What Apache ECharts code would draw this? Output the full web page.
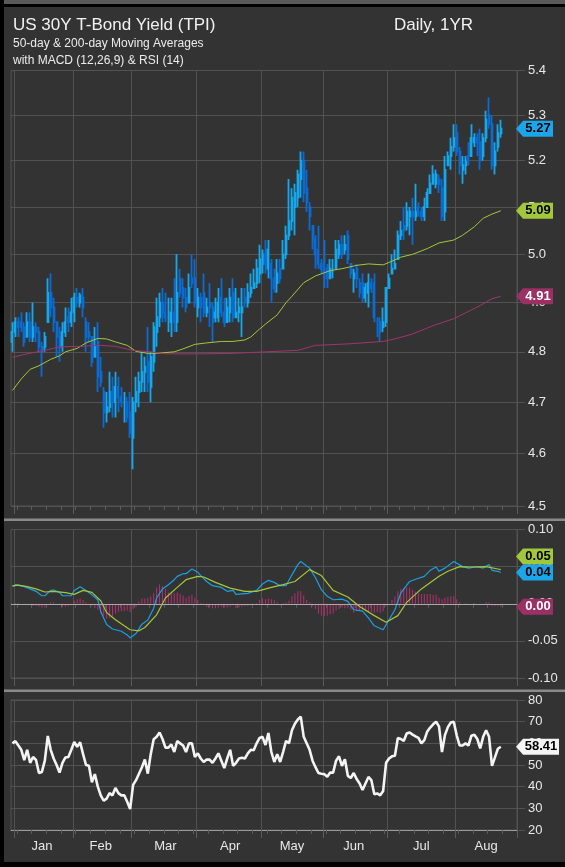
<!DOCTYPE html>
<html><head><meta charset="utf-8">
<script src="https://cdn.jsdelivr.net/npm/echarts@6/dist/echarts.min.js"></script>
<style>html,body{margin:0;padding:0;background:#333;overflow:hidden}#c{width:565px;height:867px}</style>
</head><body><div id="c"></div><script>
// ---------- DATA ----------
const dayCount = 172;
const monthNames = ['Jan','Feb','Mar','Apr','May','Jun','Jul','Aug'];
const monthStarts = [1,21,41,63,85,106,128,151];
const monthLabelIdx = [10,30,52,74,95,116,139,161];
const priceTicks = [4.5,4.6,4.7,4.8,4.9,5.0,5.1,5.2,5.3,5.4];

const opens = [4.82,4.84,4.86,4.86,4.85,4.83,4.86,4.83,4.85,4.84,4.81,4.81,4.86,4.92,4.89,4.86,4.83,4.81,4.84,4.87,
4.86,4.88,4.91,4.90,4.91,4.86,4.84,4.83,4.79,4.82,4.76,4.72,4.68,4.69,4.72,4.70,4.73,4.71,4.70,4.70,
4.68,4.63,4.70,4.72,4.74,4.76,4.78,4.73,4.78,4.84,4.87,4.90,4.88,4.87,4.86,4.88,4.86,4.95,4.93,4.91,
4.90,4.95,4.95,4.89,4.91,4.92,4.88,4.90,4.89,4.87,4.87,4.91,4.88,4.86,4.88,4.92,4.87,4.88,4.88,4.91,
4.90,4.92,4.93,4.94,4.96,4.98,5.00,4.97,4.98,4.95,4.94,4.97,4.97,5.00,5.04,5.07,5.10,5.12,5.16,5.20,
5.14,5.10,5.06,5.03,5.01,4.98,4.98,4.97,4.95,4.97,4.97,5.00,5.02,5.01,5.04,4.98,4.95,4.97,4.94,4.94,
4.91,4.92,4.94,4.94,4.86,4.86,4.85,4.86,4.93,4.96,4.97,4.99,5.04,5.06,5.06,5.08,5.09,5.08,5.10,5.09,
5.08,5.10,5.13,5.15,5.15,5.16,5.14,5.09,5.19,5.21,5.23,5.26,5.22,5.18,5.19,5.21,5.21,5.24,5.25,5.24,
5.21,5.25,5.30,5.28,5.19,5.23,5.26];
const closes = [4.84,4.86,4.85,4.85,4.82,4.86,4.83,4.85,4.84,4.81,4.80,4.83,4.92,4.89,4.86,4.83,4.81,4.84,4.86,4.86,
4.88,4.91,4.90,4.915,4.89,4.83,4.83,4.78,4.81,4.75,4.74,4.68,4.69,4.72,4.70,4.73,4.71,4.70,4.70,4.67,
4.64,4.70,4.72,4.74,4.76,4.77,4.74,4.79,4.85,4.87,4.90,4.88,4.87,4.87,4.88,4.86,4.92,4.92,4.91,4.89,
4.93,4.94,4.90,4.91,4.89,4.88,4.89,4.89,4.86,4.88,4.90,4.88,4.86,4.89,4.91,4.87,4.88,4.89,4.89,4.90,
4.92,4.93,4.94,4.97,4.99,5.00,4.98,5.01,4.95,4.93,4.96,4.95,5.00,5.04,5.07,5.12,5.13,5.17,5.20,5.13,
5.11,5.08,5.03,5.00,4.98,4.97,4.96,4.95,4.97,4.97,5.01,5.02,5.00,5.02,4.99,4.96,4.96,4.95,4.92,4.91,
4.93,4.94,4.93,4.87,4.86,4.84,4.86,4.93,4.95,4.97,4.98,5.04,5.05,5.05,5.09,5.09,5.08,5.09,5.09,5.08,
5.10,5.13,5.15,5.17,5.17,5.15,5.08,5.18,5.21,5.23,5.25,5.22,5.19,5.19,5.20,5.20,5.25,5.25,5.24,5.20,
5.25,5.29,5.28,5.19,5.22,5.26,5.27];
const lows = [4.80,4.83,4.83,4.84,4.81,4.83,4.82,4.82,4.82,4.80,4.75,4.80,4.86,4.87,4.84,4.79,4.78,4.80,4.83,4.84,
4.85,4.86,4.89,4.89,4.87,4.80,4.82,4.77,4.79,4.72,4.73,4.65,4.66,4.68,4.67,4.67,4.68,4.69,4.66,4.66,
4.63,4.57,4.68,4.69,4.72,4.72,4.72,4.70,4.76,4.81,4.85,4.86,4.86,4.84,4.83,4.84,4.84,4.91,4.89,4.88,
4.90,4.93,4.89,4.87,4.86,4.87,4.87,4.85,4.82,4.86,4.86,4.87,4.85,4.86,4.86,4.86,4.87,4.86,4.83,4.89,
4.89,4.91,4.93,4.93,4.94,4.96,4.96,4.95,4.90,4.92,4.92,4.94,4.97,4.99,5.03,5.05,5.04,5.10,5.12,5.11,
5.09,5.05,5.01,4.97,4.97,4.96,4.93,4.93,4.95,4.95,4.97,4.99,4.99,5.00,4.98,4.95,4.92,4.93,4.91,4.90,
4.90,4.89,4.92,4.86,4.83,4.82,4.84,4.85,4.93,4.96,4.97,4.99,5.03,5.03,5.05,5.04,5.02,5.07,5.08,5.07,
5.07,5.10,5.13,5.15,5.14,5.13,5.07,5.07,5.19,5.18,5.22,5.21,5.17,5.15,5.17,5.19,5.21,5.23,5.21,5.18,
5.20,5.24,5.27,5.18,5.17,5.22,5.25];
const highs = [4.86,4.87,4.87,4.88,4.86,4.88,4.88,4.90,4.86,4.85,4.82,4.84,4.95,4.96,4.91,4.86,4.85,4.86,4.89,4.89,
4.91,4.92,4.93,4.92,4.93,4.87,4.86,4.83,4.85,4.86,4.79,4.73,4.72,4.76,4.75,4.76,4.75,4.73,4.72,4.71,
4.72,4.71,4.75,4.76,4.80,4.79,4.85,4.80,4.86,4.91,4.92,4.93,4.92,4.91,4.91,4.95,5.00,4.97,4.95,4.93,
4.96,5.00,4.99,4.93,4.92,4.96,4.91,4.94,4.90,4.91,4.93,4.95,4.91,4.91,4.93,4.95,4.93,4.91,4.93,4.93,
4.94,4.96,4.97,4.99,5.02,5.01,5.03,5.03,4.99,4.97,4.99,4.99,5.03,5.06,5.16,5.14,5.15,5.18,5.22,5.22,
5.18,5.11,5.06,5.04,5.06,4.99,5.03,4.98,4.99,4.99,5.03,5.03,5.04,5.04,5.05,4.98,4.97,4.98,4.95,4.96,
4.94,4.96,4.95,4.96,4.87,4.87,4.89,4.93,4.96,5.00,5.01,5.05,5.07,5.10,5.11,5.10,5.12,5.15,5.11,5.10,
5.12,5.14,5.17,5.19,5.18,5.17,5.16,5.21,5.22,5.25,5.28,5.28,5.23,5.21,5.21,5.24,5.28,5.26,5.26,5.27,
5.26,5.31,5.34,5.30,5.24,5.28,5.29];

const ma50 = [[0,4.723],[3,4.746],[6,4.765],[9,4.772],[13,4.785],[16,4.792],[18,4.800],[22,4.807],[25,4.818],
[29,4.827],[32,4.826],[35,4.820],[39,4.813],[42,4.801],[46,4.797],[49,4.797],[55,4.800],[58,4.806],[62,4.815],
[66,4.818],[71,4.821],[75,4.821],[79,4.824],[81,4.830],[84,4.846],[86,4.856],[90,4.875],[93,4.900],[95,4.913],
[99,4.941],[103,4.955],[108,4.966],[112,4.970],[117,4.977],[121,4.980],[126,4.978],[128,4.983],[132,4.994],
[136,5.000],[141,5.012],[145,5.024],[150,5.030],[153,5.040],[157,5.058],[160,5.076],[163,5.085],[166,5.092]];
const ma200 = [[0,4.789],[5,4.796],[11,4.803],[16,4.810],[23,4.811],[30,4.813],[35,4.811],[41,4.803],[47,4.800],
[52,4.796],[64,4.796],[75,4.797],[86,4.800],[97,4.803],[103,4.813],[114,4.816],[126,4.821],[130,4.826],
[136,4.836],[143,4.853],[150,4.867],[154,4.879],[159,4.894],[163,4.908],[166,4.913]];

const macd = [[0,0.0234],[1,0.0257],[4,0.023],[6,0.020],[8,0.0167],[10,0.0108],[11,0.0108],[13,0.018],[14,0.0185],
[16,0.0153],[17,0.0108],[20,0.0108],[21,0.018],[23,0.023],[25,0.018],[27,0.012],[29,0.0054],[30,-0.0104],
[32,-0.028],[34,-0.034],[37,-0.037],[39,-0.042],[40,-0.046],[42,-0.040],[44,-0.0275],[46,-0.022],[48,-0.006],
[49,0.0077],[51,0.020],[53,0.0257],[55,0.0324],[56,0.0369],[58,0.0405],[59,0.0405],[61,0.0468],[63,0.0423],
[64,0.0378],[66,0.030],[68,0.0243],[71,0.022],[73,0.0167],[75,0.018],[76,0.0126],[80,0.014],[83,0.018],
[85,0.0266],[87,0.0315],[89,0.0288],[91,0.0243],[93,0.0243],[94,0.032],[97,0.0527],[98,0.057],[101,0.048],
[103,0.035],[105,0.019],[107,0.010],[109,0.0054],[112,0.0063],[114,0.0032],[116,-0.0081],[119,-0.010],
[121,-0.019],[123,-0.0297],[126,-0.035],[128,-0.0216],[130,-0.008],[132,0.0144],[135,0.030],[137,0.033],
[140,0.0369],[142,0.045],[144,0.0495],[145,0.0437],[147,0.048],[150,0.057],[153,0.050],[155,0.048],
[158,0.050],[160,0.048],[162,0.053],[163,0.045],[165,0.0437],[166,0.042]];
const signal = [[0,0.024],[2,0.025],[5,0.023],[8,0.020],[11,0.0158],[14,0.0167],[18,0.015],[21,0.0126],[24,0.018],
[27,0.0153],[30,0.004],[32,-0.0117],[35,-0.0216],[38,-0.0297],[40,-0.035],[43,-0.0365],[45,-0.032],[49,-0.0149],
[52,0.0077],[56,0.022],[59,0.0324],[63,0.0369],[65,0.036],[69,0.0288],[74,0.021],[79,0.0167],[83,0.0167],
[88,0.022],[92,0.0257],[96,0.030],[101,0.046],[105,0.038],[109,0.018],[114,0.009],[118,-0.0036],[123,-0.016],
[127,-0.025],[131,-0.016],[134,0.0018],[139,0.020],[145,0.0369],[148,0.0437],[152,0.050],[156,0.0495],
[161,0.050],[165,0.0468],[166,0.046]];
const hist = [0.000,0.001,0.001,0.000,-0.001,-0.002,-0.002,-0.003,-0.003,-0.004,
-0.005,-0.005,0.000,0.002,0.002,0.000,-0.001,-0.004,-0.004,-0.003,
-0.002,0.004,0.006,0.007,0.005,0.002,-0.001,-0.003,-0.006,-0.008,
-0.013,-0.016,-0.020,-0.019,-0.017,-0.013,-0.011,-0.010,-0.010,-0.009,
-0.011,-0.007,-0.004,0.003,0.007,0.007,0.008,0.010,0.014,0.022,
0.026,0.024,0.020,0.015,0.014,0.014,0.015,0.013,0.011,0.008,
0.010,0.012,0.008,0.005,0.001,-0.002,-0.004,-0.005,-0.006,-0.006,
-0.005,-0.004,-0.005,-0.005,-0.004,-0.002,-0.006,-0.005,-0.004,-0.003,
-0.003,-0.002,-0.001,0.001,0.005,0.007,0.006,0.007,0.006,0.005,
0.002,0.000,0.001,0.002,0.004,0.010,0.014,0.017,0.017,0.011,
0.005,0.002,-0.003,-0.007,-0.013,-0.016,-0.017,-0.016,-0.014,-0.013,
-0.009,-0.007,-0.005,-0.006,-0.006,-0.008,-0.012,-0.010,-0.009,-0.008,
-0.010,-0.010,-0.011,-0.012,-0.011,-0.012,-0.010,-0.003,0.000,0.005,
0.010,0.017,0.020,0.021,0.022,0.022,0.019,0.016,0.014,0.013,
0.013,0.013,0.013,0.012,0.012,0.008,0.006,0.008,0.009,0.010,
0.010,0.006,0.002,0.000,0.001,-0.001,0.000,0.001,0.000,-0.001,
-0.001,0.002,0.002,-0.003,-0.003,-0.003,-0.004];
const rsi = [60,61,59,57,52.3,57,51,53.7,52.3,46.3,46.8,52,63.4,57,53,50,46.5,51,53.5,53.7,
57,60.6,58.4,60.5,55,50,49.6,42,45.8,40,36,33.5,34.5,37,36,39.4,37,36,36,33,
29.7,40.8,43,46,49,52.5,46,55,61.9,63,65,62,58,58,59.5,56,61,60,59,56,
60,60,53.7,55.4,53,51.4,52.5,52.5,51,53,55.4,52,48.6,53,57,49.6,51,53,53.3,53,
55.4,57,56.8,60,62.5,63,59.2,64.8,56,51.4,55,51.4,56,61.1,60,66,69,71,72.3,63,
60,57,52,49,46.3,46,45.8,44.6,46.5,46.5,52,54,49.6,52.7,45,44,46.3,43.5,41.5,38.5,
41.5,44.5,43,36.5,36.9,36,38,51,53,54,54.3,62.5,62,61.1,64.5,65,64,63.2,62.5,60,
61.5,65.5,67.3,68.8,70,67.7,56,63.8,67.5,69.6,70,63.7,59,59,60,59,63.5,64,62,57.7,
63,66,63,49.6,53.5,57.5,58.41];

// ---------- STYLE ----------
const C = {
  bg:'#333333', grid:'#525252', text:'#e8e8e8',
  up:'#14a8ee', down:'#0b6bd3', ma50:'#a6c63a', ma200:'#a1346c',
  macd:'#1aa0e4', hist:'#b3306f', rsi:'#f4f4f4'
};
const FONT = '"Liberation Sans", Arial, sans-serif';
const cats = Array.from({length: dayCount}, (_, i) => String(i));
const isMonth = i => monthStarts.indexOf(i) >= 0;
const isWeek = i => (i - 2) % 5 === 0 && !isMonth(i);
const ln = Math.log;

const grids = [
  {left:11, right:48, top:70.5, height:435.5},
  {left:11, right:48, top:529.5, height:148.5},
  {left:11, right:48, top:700, height:130}
].map(g => Object.assign(g, {show:true, borderColor:C.grid, borderWidth:1, backgroundColor:'transparent'}));

const xAxes = [];
[0,1,2].forEach(g => {
  xAxes.push({
    type:'category', gridIndex:g, data:cats, boundaryGap:true, position:'bottom',
    axisLine:{show: g===2, lineStyle:{color:'#9a9a9a', width:1}},
    axisTick:{show:true, interval:(i)=>isWeek(i), length:4, lineStyle:{color:'#5c5c5c'}},
    axisLabel: g===2 ? {
      show:true, interval:(i)=>monthLabelIdx.indexOf(i)>=0,
      formatter:(v, i)=>monthNames[monthLabelIdx.indexOf(i)] || '',
      color:C.text, fontSize:13, fontFamily:FONT, margin:10
    } : {show:false},
    splitLine:{show:true, interval:(i)=>isMonth(i), lineStyle:{color:C.grid, width:1}}
  });
  xAxes.push({
    type:'category', gridIndex:g, data:cats, boundaryGap:true, position:'bottom',
    axisLine:{show:false}, axisLabel:{show:false}, splitLine:{show:false},
    axisTick:{show:true, interval:(i)=>isMonth(i), length:8, lineStyle:{color:'#5c5c5c'}}
  });
});

const lab = {color:C.text, fontSize:13, fontFamily:FONT, margin:11};
const yAxes = [
  { type:'value', gridIndex:0, position:'right', min:ln(4.5), max:ln(5.4),
    axisLine:{show:false},
    axisTick:{show:true, length:8, lineStyle:{color:C.grid}, customValues:priceTicks.map(ln)},
    axisLabel:Object.assign({customValues:priceTicks.map(ln), formatter:v=>Math.exp(v).toFixed(1)}, lab),
    splitLine:{show:true, lineStyle:{color:C.grid}} },
  { type:'value', gridIndex:1, position:'right', min:-0.1, max:0.1, interval:0.05,
    axisLine:{show:false}, axisTick:{show:true, length:8, lineStyle:{color:C.grid}},
    axisLabel:Object.assign({formatter:v=>v.toFixed(2)}, lab),
    splitLine:{show:true, lineStyle:{color:C.grid}} },
  { type:'value', gridIndex:2, position:'right', min:20, max:80, interval:10,
    axisLine:{show:false}, axisTick:{show:true, length:8, lineStyle:{color:C.grid}},
    axisLabel:Object.assign({formatter:v=>String(v)}, lab),
    splitLine:{show:true, lineStyle:{color:C.grid}} }
];

const candleData = opens.map((o, i) => [ln(o), ln(closes[i]), ln(lows[i]), ln(highs[i])]);

const series = [
  { type:'candlestick', xAxisIndex:0, yAxisIndex:0, data:candleData, barWidth:1.5,
    itemStyle:{color:C.up, color0:C.down, borderColor:C.up, borderColor0:C.down, borderWidth:1.8} },
  { type:'line', xAxisIndex:0, yAxisIndex:0, data:ma50.map(p=>[p[0], ln(p[1])]), symbol:'none',
    lineStyle:{color:C.ma50, width:1} },
  { type:'line', xAxisIndex:0, yAxisIndex:0, data:ma200.map(p=>[p[0], ln(p[1])]), symbol:'none',
    lineStyle:{color:C.ma200, width:1} },
  { type:'bar', xAxisIndex:2, yAxisIndex:1, data:hist, barWidth:1, itemStyle:{color:C.hist},
    markLine:{silent:true, symbol:'none', label:{show:false}, lineStyle:{color:'#a8a8a8', type:'solid', width:1},
      data:[{yAxis:0}]} },
  { type:'line', xAxisIndex:2, yAxisIndex:1, data:macd, symbol:'none', lineStyle:{color:C.macd, width:1.2} },
  { type:'line', xAxisIndex:2, yAxisIndex:1, data:signal, symbol:'none', lineStyle:{color:C.ma50, width:1.2} },
  { type:'line', xAxisIndex:4, yAxisIndex:2, data:rsi, symbol:'none', lineStyle:{color:C.rsi, width:2.6} }
];

const frame = [
  {type:'rect', shape:{x:0,y:0,width:565,height:4}, style:{fill:'#595959'}, z:50},
  {type:'rect', shape:{x:0,y:4,width:565,height:3}, style:{fill:'#000'}, z:50},
  {type:'rect', shape:{x:0,y:0,width:4,height:867}, style:{fill:'#000'}, z:50},
  {type:'rect', shape:{x:0,y:862,width:565,height:5}, style:{fill:'#000'}, z:50},
  {type:'rect', shape:{x:4,y:518.5,width:561,height:2.5}, style:{fill:'#8a8a8a'}, z:50},
  {type:'rect', shape:{x:4,y:689.5,width:561,height:2.5}, style:{fill:'#8a8a8a'}, z:50},
  {type:'text', x:13, y:25, style:{text:'US 30Y T-Bond Yield (TPI)', fill:'#f2f2f2', font:'17px '+FONT, verticalAlign:'middle'}, z:50},
  {type:'text', x:473, y:25, style:{text:'Daily, 1YR', fill:'#f2f2f2', font:'17px '+FONT, align:'right', verticalAlign:'middle'}, z:50},
  {type:'text', x:13, y:44, style:{text:'50-day & 200-day Moving Averages', fill:'#ececec', font:'12px '+FONT, verticalAlign:'middle'}, z:50},
  {type:'text', x:13, y:61, style:{text:'with MACD (12,26,9) & RSI (14)', fill:'#ececec', font:'12px '+FONT, verticalAlign:'middle'}, z:50}
];

const chart = echarts.init(document.getElementById('c'), null, {renderer:'canvas'});
chart.setOption({
  backgroundColor:C.bg, animation:false,
  grid:grids, xAxis:xAxes, yAxis:yAxes, series:series, graphic:frame
});

// value tags at the right axis, placed through the library's scales
const last = a => a[a.length-1];
const f2 = v => (Math.round(v*100)/100).toFixed(2);
function tag(y, text, bg, fg, w) {
  const r = 523 + w;
  return {type:'group', z:100, children:[
    {type:'polygon', shape:{points:[[516,y],[523,y-8],[r,y-8],[r,y+8],[523,y+8]]}, style:{fill:bg}, z:100},
    {type:'text', x:(523+r)/2, y:y, style:{text:text, fill:fg, font:'bold 13px '+FONT, align:'center', verticalAlign:'middle'}, z:101}
  ]};
}
const py = (ax, v) => chart.convertToPixel({yAxisIndex:ax}, v);
const cY = py(0, ln(last(closes)));
const m50Y = py(0, ln(last(ma50)[1]));
const m200Y = py(0, ln(last(ma200)[1]));
const macdY = py(1, last(macd)[1]);
const sigY = Math.min(py(1, last(signal)[1]), macdY - 16);
const histY = py(1, last(hist));
const rsiY = py(2, last(rsi));
chart.setOption({graphic: frame.concat([
  tag(cY, f2(last(closes)), '#19a6ea', '#000', 30),
  tag(m50Y, f2(last(ma50)[1]), '#a2c83a', '#000', 30),
  tag(m200Y, f2(last(ma200)[1]), '#9c2f63', '#fff', 30),
  tag(sigY, f2(last(signal)[1]), '#a2c83a', '#000', 30),
  tag(macdY, f2(last(macd)[1]), '#19a6ea', '#000', 30),
  tag(histY, f2(last(hist)), '#9c2f63', '#fff', 30),
  tag(rsiY, last(rsi).toFixed(2), '#f4f4f4', '#000', 36)
])});
</script></body></html>
